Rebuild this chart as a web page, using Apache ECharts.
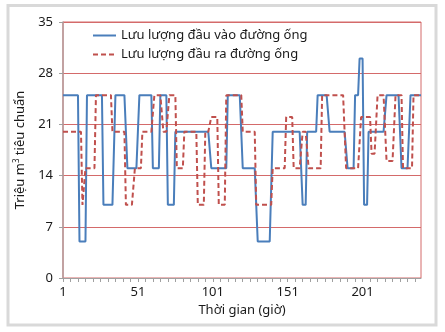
<!DOCTYPE html>
<html><head><meta charset="utf-8">
<script src="https://cdn.jsdelivr.net/npm/echarts@6/dist/echarts.min.js"></script>
<style>html,body{margin:0;padding:0;background:#fff;}#c{width:445px;height:332px;}</style>
</head><body><div id="c"></div>
<script>
var seriesNames = ['Lưu lượng đầu vào đường ống', 'Lưu lượng đầu ra đường ống'];
var xAxisTitle = 'Thời gian (giờ)';
var yTicks = [0, 7, 14, 21, 28, 35];
var hours = [];
for (var h = 1; h <= 240; h++) hours.push(String(h));

var inflow = [
25,25,25,25,25,25,25,25,25,25,
25,5,5,5,5,5,25,25,25,25,
25,25,25,25,25,25,25,10,10,10,
10,10,10,10,10,25,25,25,25,25,
25,25,25,15,15,15,15,15,15,15,
15,25,25,25,25,25,25,25,25,25,
15,15,15,15,15,25,25,25,25,25,
10,10,10,10,10,20,20,20,20,20,
20,20,20,20,20,20,20,20,20,20,
20,20,20,20,20,20,20,20,20,15,
15,15,15,15,15,15,15,15,15,15,
25,25,25,25,25,25,25,25,25,25,
15,15,15,15,15,15,15,15,15,15,
5,5,5,5,5,5,5,5,5,5,
20,20,20,20,20,20,20,20,20,20,
20,20,20,20,20,20,20,20,20,20,
10,10,10,20,20,20,20,20,20,20,
25,25,25,25,25,25,25,25,20,20,
20,20,20,20,20,20,20,20,20,20,
15,15,15,15,15,25,25,25,30,30,
30,10,10,10,20,20,20,20,20,20,
20,20,20,20,20,20,25,25,25,25,
25,25,25,25,25,25,15,15,15,15,
15,15,25,25,25,25,25,25,25,25
];

var outflow = [
20,20,20,20,20,20,20,20,20,20,
20,20,20,10,10,15,15,15,15,15,
15,15,25,25,25,25,25,25,25,25,
25,25,25,20,20,20,20,20,20,20,
20,20,10,10,10,10,10,10,15,15,
15,15,15,20,20,20,20,20,20,20,
20,25,25,25,25,25,25,20,20,20,
20,25,25,25,25,25,15,15,15,15,
15,20,20,20,20,20,20,20,20,20,
10,10,10,10,10,20,20,20,20,22,
22,22,22,22,10,10,10,10,10,25,
25,25,25,25,25,25,25,25,25,25,
20,20,20,20,20,20,20,20,20,10,
10,10,10,10,10,10,10,10,10,10,
15,15,15,15,15,15,15,15,15,22,
22,22,22,22,15,15,15,15,15,15,
20,20,20,20,15,15,15,15,15,15,
15,15,15,25,25,25,25,25,25,25,
25,25,25,25,25,25,25,25,25,15,
15,15,15,15,15,15,15,15,15,22,
22,22,22,22,22,22,17,17,17,17,
25,25,25,25,25,25,16,16,16,16,
16,16,25,25,25,25,25,15,15,15,
15,15,15,15,25,25,25,25,25,25
];

var FONT = 'Noto Sans';
var chart = echarts.init(document.getElementById('c'), null, {renderer: 'canvas'});
chart.setOption({
  animation: false,
  backgroundColor: '#fff',
  textStyle: {fontFamily: FONT},
  graphic: [{
    type: 'rect', silent: true, z: -1,
    shape: {x: 8, y: 5.5, width: 428, height: 319.5},
    style: {fill: '#fff', stroke: '#d9d9d9', lineWidth: 3}
  }],
  grid: {left: 63, right: 24, top: 22, bottom: 54, show: true, borderColor: '#d46a6a', borderWidth: 1, backgroundColor: 'transparent'},
  legend: {
    orient: 'vertical', left: 87, top: 24, itemWidth: 23, itemHeight: 14, itemGap: 6,
    itemStyle: {opacity: 0},
    textStyle: {fontFamily: FONT, fontSize: 13, color: '#1a1a1a'},
    data: seriesNames
  },
  xAxis: {
    type: 'category', data: hours, boundaryGap: false,
    name: xAxisTitle, nameLocation: 'middle', nameGap: 23,
    nameTextStyle: {fontFamily: FONT, fontSize: 13, color: '#1a1a1a'},
    axisLine: {lineStyle: {color: '#a0a0a0', width: 1}},
    axisTick: {show: true, interval: 4, length: 4, lineStyle: {color: '#a0a0a0'}},
    axisLabel: {interval: 49, fontFamily: FONT, fontSize: 13, color: '#1a1a1a', margin: 8},
    splitLine: {show: false}
  },
  yAxis: {
    type: 'value', min: yTicks[0], max: yTicks[yTicks.length - 1], interval: 7,
    name: 'Triệu m{sup|3} tiêu chuẩn', nameLocation: 'middle', nameGap: 30, nameRotate: 90,
    nameTextStyle: {fontFamily: FONT, fontSize: 13, color: '#1a1a1a',
      rich: {sup: {fontSize: 8, verticalAlign: 'top', padding: [0, 0, 8, 0], fontFamily: FONT, color: '#1a1a1a'}}},
    axisLine: {show: true, lineStyle: {color: '#b49c9c', width: 1.5}},
    axisTick: {show: true, length: 4, lineStyle: {color: '#a0a0a0'}},
    axisLabel: {fontFamily: FONT, fontSize: 13, color: '#1a1a1a', margin: 10},
    splitLine: {show: true, lineStyle: {color: '#d46a6a', width: 1}}
  },
  series: [
    {name: seriesNames[0], type: 'line', data: inflow, showSymbol: false, symbol: 'none',
     lineStyle: {color: '#4a7ebb', width: 2}, itemStyle: {color: '#4a7ebb'}, z: 3},
    {name: seriesNames[1], type: 'line', data: outflow, showSymbol: false, symbol: 'none',
     lineStyle: {color: '#c0504d', width: 2, type: [5, 3]}, itemStyle: {color: '#c0504d'}, z: 4}
  ]
});
</script></body></html>
